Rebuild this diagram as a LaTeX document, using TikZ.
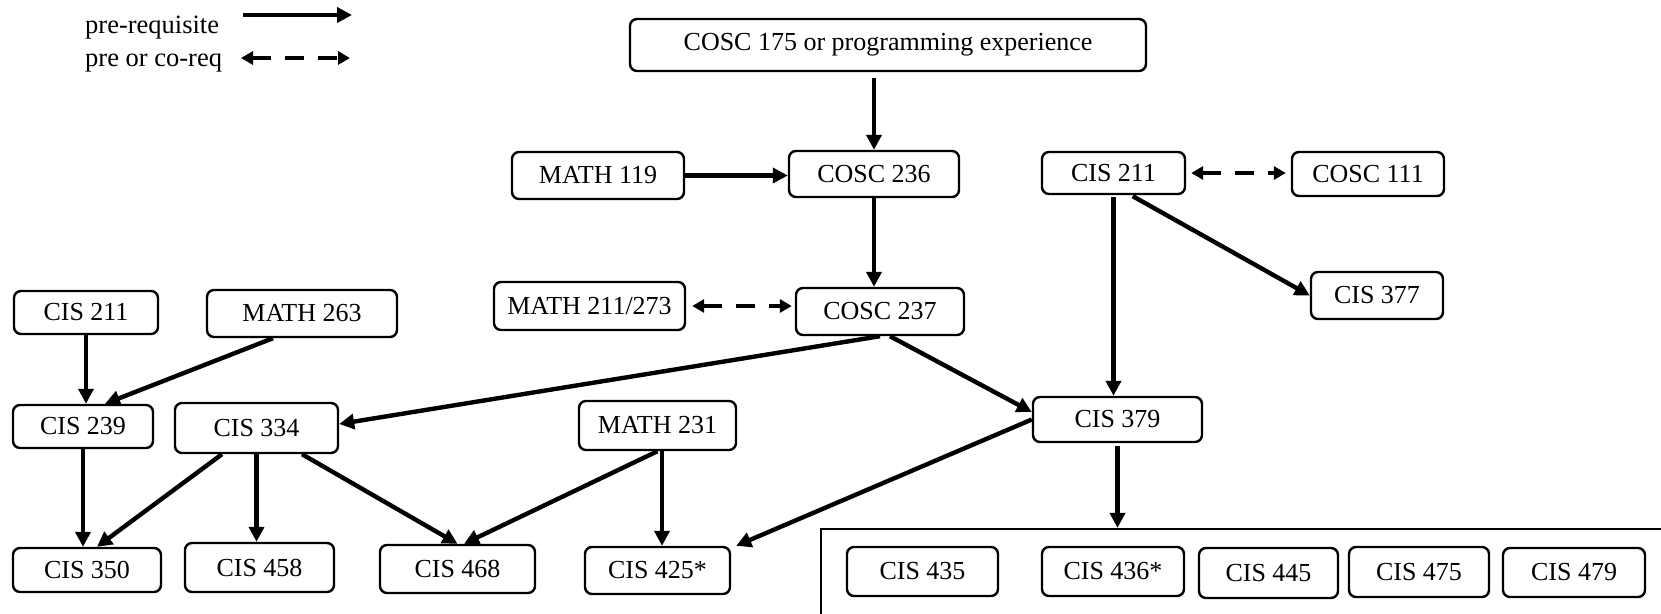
\documentclass[tikz,border=0pt]{standalone}
\usepackage{fontspec}
\setmainfont{Liberation Serif}
\usetikzlibrary{arrows.meta}
\begin{document}
\begin{tikzpicture}[x=1pt,y=-1pt,
  box/.style={draw, line width=2.4pt, rounded corners=7pt, inner sep=0pt, font=\fontsize{26}{30}\selectfont},
  wh/.style 2 args={minimum width=#1pt, minimum height=#2pt},
  pre/.style={line width=4.4pt, -{Triangle[length=15pt,width=15pt]}},
  coreq/.style={line width=4.4pt, {Triangle[length=12pt,width=13pt]}-{Triangle[length=12pt,width=13pt]}, dash pattern=on 19pt off 14pt},
  lbl/.style={font=\fontsize{26.5}{30}\selectfont, inner sep=0pt, anchor=base west}]
\useasboundingbox (0,0) rectangle (1661,613);
% group box
\node[draw, line width=2.2pt, inner sep=0pt, wh={849}{91}] (grp) at (1245.5,574.5) {};
% legend
\node[lbl] (lreq) at (85,33) {pre-requisite};
\node[lbl] (lco) at (85,66) {pre or co-req};
\coordinate (la1) at (243,15);
\coordinate (la2) at (352,15);
\coordinate (lb1) at (241,58);
\coordinate (lb2) at (350,58);
\draw[pre] (la1) -- (la2);
\draw[coreq] (lb1) -- (lb2);
% nodes
\node[box, wh={516}{52}] (c175) at (888,45) {COSC 175 or programming experience};
\node[box, wh={172}{47}] (m119) at (598,175.5) {MATH 119};
\node[box, wh={170}{46}] (c236) at (874,174) {COSC 236};
\node[box, wh={143}{42}] (cisr) at (1113.5,173) {CIS 211};
\node[box, wh={152}{44}] (c111) at (1368,174) {COSC 111};
\node[box, wh={132}{47}] (cis377) at (1377,295.5) {CIS 377};
\node[box, wh={191}{48}] (m211) at (589.5,306) {MATH 211/273};
\node[box, wh={168}{47}] (c237) at (880,311.5) {COSC 237};
\node[box, wh={144}{43}] (cisl) at (86,312.5) {CIS 211};
\node[box, wh={190}{47}] (m263) at (302,313.5) {MATH 263};
\node[box, wh={140}{43}] (cis239) at (83,426.5) {CIS 239};
\node[box, wh={163}{50}] (cis334) at (256.5,428) {CIS 334};
\node[box, wh={157}{49}] (m231) at (657.5,425.5) {MATH 231};
\node[box, wh={169}{45}] (cis379) at (1117.5,419.5) {CIS 379};
\node[box, wh={148}{44}] (cis350) at (87,570) {CIS 350};
\node[box, wh={149}{49}] (cis458) at (259.5,567.5) {CIS 458};
\node[box, wh={155}{48}] (cis468) at (457.5,569) {CIS 468};
\node[box, wh={145}{47}] (cis425) at (657.5,570.5) {CIS 425*};
\node[box, wh={151}{49}] (cis435) at (922.5,571.5) {CIS 435};
\node[box, wh={142}{49}] (cis436) at (1113,571.5) {CIS 436*};
\node[box, wh={139}{50}] (cis445) at (1268.5,573) {CIS 445};
\node[box, wh={140}{50}] (cis475) at (1419,572) {CIS 475};
\node[box, wh={142}{49}] (cis479) at (1574,572.5) {CIS 479};
% connectors
\draw[pre, shorten <=6pt] (c175.south -| c236) -- (c236.north);
\draw[pre] (m119.east) -- (m119.east -| c236.west);
\draw[pre] (c236.south) -- (c236.south |- c237.north);
\draw[coreq, shorten <=5pt, shorten >=5pt] (cisr.east) -- (cisr.east -| c111.west);
\draw[pre, shorten <=2pt] ([xshift=17.5pt]cisr.south) -- (cis377.west);
\draw[pre, shorten <=2pt] (cisr.south) -- (cisr.south |- cis379.north);
\draw[coreq, shorten <=6pt, shorten >=3pt] (m211.east) -- (m211.east -| c237.west);
\draw[pre] (c237.south) -- ([yshift=4pt]cis334.east);
\draw[pre] ([xshift=10pt]c237.south) -- ([yshift=7.5pt]cis379.west);
\draw[pre] (cis379.west) -- ([xshift=5pt]cis425.north east);
\draw[pre, shorten <=3pt] (cis379.south) -- (cis379.south |- grp.north);
\draw[pre] (cisl.south) -- (cisl.south |- cis239.north);
\draw[pre] ([xshift=-29pt]m263.south) -- ([xshift=22pt]cis239.north);
\draw[pre] (cis239.south) -- (cis239.south |- cis350.north);
\draw[pre] ([xshift=-34.5pt]cis334.south) -- ([xshift=10pt]cis350.north);
\draw[pre] (cis334.south) -- (cis334.south |- cis458.north);
\draw[pre] ([xshift=45.5pt]cis334.south) -- (cis468.north);
\draw[pre] (m231.south) -- ([xshift=6.5pt]cis468.north);
\draw[pre] ([xshift=4.5pt]m231.south) -- ([xshift=4.5pt]cis425.north);
\end{tikzpicture}
\end{document}
